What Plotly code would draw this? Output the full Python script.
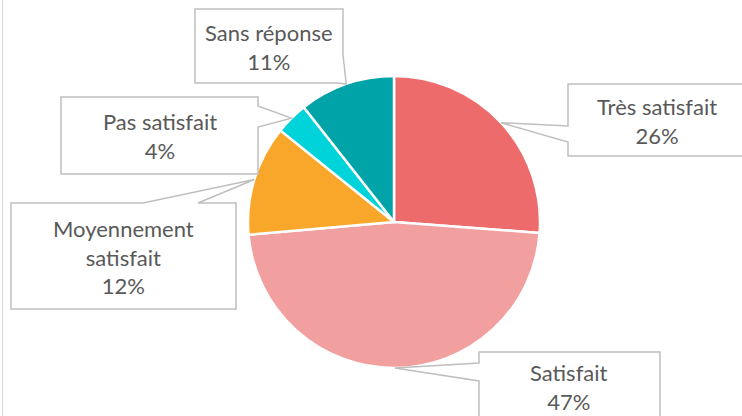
import math
import plotly.graph_objects as go

W, H = 742, 416

# ---- data ----
categories = ["Très satisfait", "Satisfait", "Moyennement satisfait", "Pas satisfait", "Sans réponse"]
label_text = ["Très satisfait", "Satisfait", "Moyennement<br>satisfait", "Pas satisfait", "Sans réponse"]
values = [26.2, 47.4, 12.2, 3.6, 10.6]
colors = ["#ED6B6B", "#F29FA0", "#F9A72B", "#00D3D9", "#00A3A7"]

# ---- layout constants (pixels) ----
CX, CY, R = 394, 222, 146
FONT = dict(family="Lato, Carlito, Calibri, sans-serif", size=22, color="#595959")
LINE = "#BFBFBF"

# callout boxes: vertex lists with "TIP" placeholder, and text center
callouts = {
    "Très satisfait": dict(poly=[(568, 84), (746, 84), (746, 156), (568, 156), (568, 142), "TIP", (568, 126)],
                           text=(657, 121)),
    "Satisfait": dict(poly=[(479, 352), (660, 352), (660, 423), (479, 423), (479, 381), "TIP", (479, 363)],
                      text=(569, 387)),
    "Moyennement satisfait": dict(poly=[(11, 203), (143, 203), "TIP", (198, 203), (236, 203), (236, 309), (11, 309)],
                                  text=(123, 257)),
    "Pas satisfait": dict(poly=[(61, 97), (258, 97), (258, 106), "TIP", (258, 127), (258, 174), (61, 174)],
                          text=(160, 136)),
    "Sans réponse": dict(poly=[(195, 9), (343, 9), (343, 55), "TIP", (338, 83), (195, 83)],
                         text=(269, 47)),
}


def px(x):
    return x / W


def py(y):
    return 1 - y / H


fig = go.Figure()
fig.add_trace(go.Pie(
    labels=categories, values=values, sort=False, direction="clockwise", rotation=0,
    marker=dict(colors=colors, line=dict(color="white", width=2.5)),
    textinfo="none", hoverinfo="skip", showlegend=False,
    domain=dict(x=[px(CX - R), px(CX + R)], y=[py(CY + R), py(CY - R)]),
))

total = sum(values)
cum = 0.0
shapes = []
annotations = []
for cat, lab, v in zip(categories, label_text, values):
    mid = (cum + v / 2) / total * 360.0
    cum += v
    tip = (CX + R * math.sin(math.radians(mid)), CY - R * math.cos(math.radians(mid)))
    c = callouts[cat]
    pts = [tip if p == "TIP" else p for p in c["poly"]]
    path = "M " + " L ".join(f"{px(x):.5f},{py(y):.5f}" for x, y in pts) + " Z"
    shapes.append(dict(type="path", xref="paper", yref="paper", path=path,
                       fillcolor="white", line=dict(color=LINE, width=1.5), layer="above"))
    tx, ty = c["text"]
    annotations.append(dict(x=px(tx), y=py(ty), xref="paper", yref="paper",
                            text=f"{lab}<br>{round(v)}%", showarrow=False,
                            xanchor="center", yanchor="middle", align="center", font=FONT))

# chart-area left border
shapes.append(dict(type="line", xref="paper", yref="paper", x0=px(2.5), x1=px(2.5), y0=0, y1=1,
                   line=dict(color="#D9D9D9", width=1)))

fig.update_layout(
    width=W, height=H, margin=dict(l=0, r=0, t=0, b=0),
    paper_bgcolor="white", plot_bgcolor="white",
    shapes=shapes, annotations=annotations, showlegend=False,
)
fig.write_html("out.html", config={"displayModeBar": False},
               post_script="document.body.style.margin='0';document.body.style.overflow='hidden';")
